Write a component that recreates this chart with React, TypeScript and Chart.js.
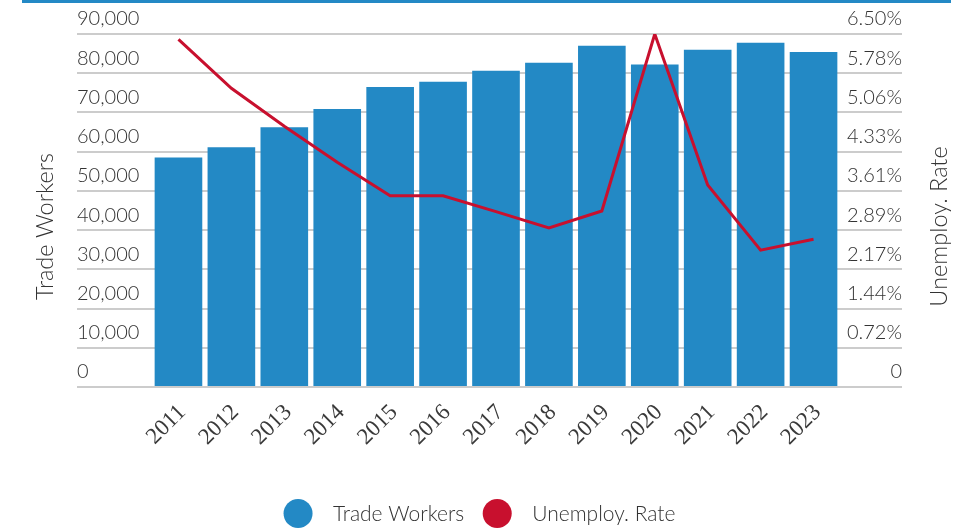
import React, { useEffect, useRef } from 'react';
import { Chart, registerables } from 'chart.js';

Chart.register(...registerables);

const years = ['2011', '2012', '2013', '2014', '2015', '2016', '2017', '2018', '2019', '2020', '2021', '2022', '2023'];
const tradeWorkers = [58500, 61100, 66200, 70900, 76500, 77800, 80600, 82700, 87000, 82200, 86000, 87800, 85400];
const unemploymentRate = [6.4, 5.5, 4.8, 4.14, 3.52, 3.52, 3.23, 2.93, 3.24, 6.5, 3.72, 2.52, 2.72];

const leftTickValues = [0, 10000, 20000, 30000, 40000, 50000, 60000, 70000, 80000, 90000];
const leftTickLabels = ['0', '10,000', '20,000', '30,000', '40,000', '50,000', '60,000', '70,000', '80,000', '90,000'];
const rightMax = 6.5;
const rightTickLabels = ['0', '0.72%', '1.44%', '2.17%', '2.89%', '3.61%', '4.33%', '5.06%', '5.78%', '6.50%'];

const seriesNames = ['Trade Workers', 'Unemploy. Rate'];
const leftTitle = 'Trade Workers';
const rightTitle = 'Unemploy. Rate';

const BLUE = '#2389c5';
const RED = '#c8102e';
const GRID = '#cccccc';
const TEXT = '#333333';
const SANS = 'Lato, "Open Sans", sans-serif';

const axisTitlePlugin = {
  id: 'axisTitles',
  afterDraw(chart: any) {
    const { ctx, chartArea, scales } = chart;
    const cy = (chartArea.top + chartArea.bottom) / 2 + 16;
    ctx.save();
    ctx.fillStyle = TEXT;
    ctx.font = '300 23.5px ' + SANS;
    ctx.textAlign = 'center';
    ctx.textBaseline = 'alphabetic';
    const draw = (x: number, text: string) => {
      ctx.save();
      ctx.translate(x, cy);
      ctx.rotate(-Math.PI / 2);
      ctx.fillText(text, 0, 0);
      ctx.restore();
    };
    draw(scales.y.left - 24, leftTitle);
    draw(scales.y1.right + 45, rightTitle);
    ctx.restore();
  },
};

const legendPlugin = {
  id: 'circleLegend',
  afterDraw(chart: any) {
    const { ctx } = chart;
    ctx.save();
    ctx.font = '300 21px ' + SANS;
    const r = 14.5;
    const textGap = 20.5;
    const itemGap = 18.5;
    const items = chart.data.datasets.map((ds: any) => ({
      text: ds.label as string,
      color: ds.legendColor as string,
      w: ctx.measureText(ds.label).width,
    }));
    const total = items.reduce((s: number, it: any) => s + 2 * r + textGap + it.w, 0) + itemGap * (items.length - 1);
    let x = chart.width / 2 - 9 - total / 2;
    const cy = 513.5;
    items.forEach((it: any) => {
      ctx.fillStyle = it.color;
      ctx.beginPath();
      ctx.arc(x + r, cy, r, 0, Math.PI * 2);
      ctx.fill();
      ctx.fillStyle = TEXT;
      ctx.textAlign = 'left';
      ctx.textBaseline = 'alphabetic';
      ctx.fillText(it.text, x + 2 * r + textGap, cy + 7.5);
      x += 2 * r + textGap + it.w + itemGap;
    });
    ctx.restore();
  },
};

export default function App() {
  const ref = useRef<HTMLCanvasElement>(null);

  useEffect(() => {
    document.body.style.margin = '0';
    const chart = new Chart(ref.current as HTMLCanvasElement, {
      type: 'bar',
      data: {
        labels: years,
        datasets: [
          {
            type: 'bar',
            label: seriesNames[0],
            data: tradeWorkers,
            backgroundColor: BLUE,
            borderWidth: 0,
            barPercentage: 0.9,
            categoryPercentage: 1.0,
            yAxisID: 'y',
            order: 2,
            legendColor: BLUE,
          } as any,
          {
            type: 'line',
            label: seriesNames[1],
            data: unemploymentRate,
            borderColor: RED,
            backgroundColor: RED,
            borderWidth: 3,
            pointRadius: 0,
            tension: 0,
            fill: false,
            yAxisID: 'y1',
            order: 1,
            legendColor: RED,
          } as any,
        ],
      },
      options: {
        responsive: false,
        animation: false,
        layout: { padding: { left: 77, right: 75, top: 34, bottom: 72 } },
        plugins: {
          legend: { display: false },
          tooltip: { enabled: false },
        },
        scales: {
          x: {
            grid: { display: false, drawTicks: false },
            border: { display: false },
            ticks: {
              minRotation: 45,
              maxRotation: 45,
              autoSkip: false,
              padding: 12,
              labelOffset: 4,
              color: '#3a3a3a',
              font: { family: '"Liberation Serif", serif', size: 23 },
            },
            afterFit: (s: any) => {
              s.height = 70;
            },
          },
          y: {
            position: 'left',
            min: 0,
            max: leftTickValues[leftTickValues.length - 1],
            afterBuildTicks: (s: any) => {
              s.ticks = leftTickValues.map((v) => ({ value: v }));
            },
            grid: { color: GRID, lineWidth: 2, drawTicks: true, tickLength: 75 },
            border: { display: false },
            ticks: {
              crossAlign: 'far',
              labelOffset: -15,
              color: TEXT,
              font: { family: SANS, size: 20, weight: '300' as any },
              callback: (_v: any, i: number) => leftTickLabels[i],
            },
            afterFit: (s: any) => {
              s.width = 75;
            },
          },
          y1: {
            position: 'right',
            min: 0,
            max: rightMax,
            afterBuildTicks: (s: any) => {
              s.ticks = rightTickLabels.map((_l, i) => ({ value: (rightMax * i) / (rightTickLabels.length - 1) }));
            },
            grid: { color: GRID, lineWidth: 2, drawOnChartArea: false, drawTicks: true, tickLength: 62 },
            border: { display: false },
            ticks: {
              crossAlign: 'far',
              labelOffset: -15,
              color: TEXT,
              font: { family: SANS, size: 20, weight: '300' as any },
              callback: (_v: any, i: number) => rightTickLabels[i],
            },
            afterFit: (s: any) => {
              s.width = 62;
            },
          },
        },
      } as any,
      plugins: [axisTitlePlugin, legendPlugin],
    });
    return () => chart.destroy();
  }, []);

  return (
    <div style={{ position: 'relative', width: 977, height: 529 }}>
      <canvas ref={ref} width={977} height={529} style={{ display: 'block', width: 977, height: 529 }} />
      <div style={{ position: 'absolute', left: 22, top: 0, width: 929, height: 3, background: BLUE }} />
    </div>
  );
}
